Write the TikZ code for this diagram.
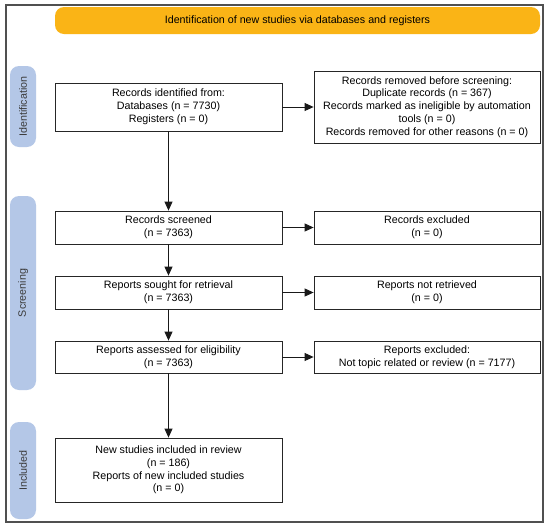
\documentclass[tikz,border=0pt]{standalone}
\usepackage{fontspec}
\setmainfont{Liberation Sans}
\usetikzlibrary{arrows.meta}
\definecolor{bannerorange}{RGB}{250,180,22}
\definecolor{tabblue}{RGB}{180,199,231}
\definecolor{framegray}{RGB}{80,80,80}
\definecolor{tabtext}{RGB}{60,60,60}
\tikzset{
  flowbox/.style={draw=black!85, line width=0.8pt, fill=white, align=center, inner sep=1pt,
    font=\fontsize{10.7pt}{12.8pt}\selectfont},
  tabnode/.style={fill=tabblue, rounded corners=9pt, rotate=90, minimum height=26pt,
    inner sep=0pt, text=tabtext, font=\fontsize{10.7pt}{12pt}\selectfont},
  flowarrow/.style={line width=0.8pt, draw=black!90, -{Triangle[length=9pt,width=8pt]}},
}
\begin{document}
\begin{tikzpicture}[x=1pt,y=-1pt]
\useasboundingbox (0,0) rectangle (550,528);
\fill[white] (0,0) rectangle (550,528);
\draw[framegray, line width=1.2pt] (6,5) rectangle (543,522);

\node[fill=bannerorange, rounded corners=9pt, minimum width=485pt, minimum height=27pt,
  inner sep=0pt, font=\fontsize{10.7pt}{12pt}\selectfont] (banner) at (297.5,20.5)
  {Identification of new studies via databases and registers};

\node[tabnode, minimum width=81pt] (tabid) at (23,106.5) {Identification};
\node[tabnode, minimum width=194pt] (tabsc) at (23,293) {Screening};
\node[tabnode, minimum width=97pt] (tabin) at (23,470.5) {Included};

\node[flowbox, minimum width=227pt, minimum height=48pt] (ident) at (168.5,107)
  {Records identified from:\\Databases (n = 7730)\\Registers (n = 0)};
\node[flowbox, minimum width=226pt, minimum height=72pt] (removed) at (427,107)
  {Records removed before screening:\\Duplicate records (n = 367)\\Records marked as ineligible by automation\\tools (n = 0)\\Records removed for other reasons (n = 0)};

\node[flowbox, minimum width=227pt, minimum height=33pt] (screened) at (168.5,227.5)
  {Records screened\\(n = 7363)};
\node[flowbox, minimum width=226pt, minimum height=33pt] (excluded) at (427,227.5)
  {Records excluded\\(n = 0)};

\node[flowbox, minimum width=227pt, minimum height=33pt] (sought) at (168.5,292.5)
  {Reports sought for retrieval\\(n = 7363)};
\node[flowbox, minimum width=226pt, minimum height=33pt] (notret) at (427,292.5)
  {Reports not retrieved\\(n = 0)};

\node[flowbox, minimum width=227pt, minimum height=32pt] (assessed) at (168.5,357)
  {Reports assessed for eligibility\\(n = 7363)};
\node[flowbox, minimum width=226pt, minimum height=32pt] (repexcl) at (427,357)
  {Reports excluded:\\Not topic related or review (n = 7177)};

\node[flowbox, minimum width=227pt, minimum height=64pt] (included) at (168.5,470)
  {New studies included in review\\(n = 186)\\Reports of new included studies\\(n = 0)};

\draw[flowarrow] (ident) -- (removed);
\draw[flowarrow] (screened) -- (excluded);
\draw[flowarrow] (sought) -- (notret);
\draw[flowarrow] (assessed) -- (repexcl);
\draw[flowarrow] (ident) -- (screened);
\draw[flowarrow] (screened) -- (sought);
\draw[flowarrow] (sought) -- (assessed);
\draw[flowarrow] (assessed) -- (included);
\end{tikzpicture}
\end{document}
